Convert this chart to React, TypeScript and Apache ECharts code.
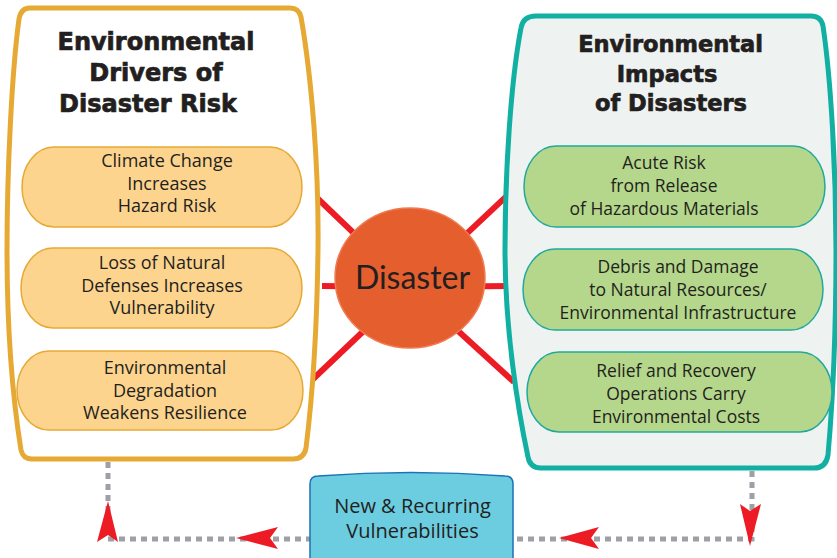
import React, { useEffect, useRef } from "react";
import * as echarts from "echarts";

// ---- Diagram content (text data) ----
const leftTitle = ["Environmental", "Drivers of", "Disaster Risk"];
const rightTitle = ["Environmental", "Impacts", "of Disasters"];
const driverItems = [
  ["Climate Change", "Increases", "Hazard Risk"],
  ["Loss of Natural", "Defenses Increases", "Vulnerability"],
  ["Environmental", "Degradation", "Weakens Resilience"],
];
const impactItems = [
  ["Acute Risk", "from Release", "of Hazardous Materials"],
  ["Debris and Damage", "to Natural Resources/", "Environmental Infrastructure"],
  ["Relief and Recovery", "Operations Carry", "Environmental Costs"],
];
const centerLabel = "Disaster";
const loopLabel = ["New & Recurring", "Vulnerabilities"];

// ---- Layout (positions / sizes) ----
const leftTitleX = [156, 156, 148];
const leftTitleY = [42, 73, 104];
const rightTitleX = [670.5, 667, 671];
const rightTitleY = [43.5, 73.5, 103];
const driverBoxes = [
  { x: 22, y: 147, w: 280, h: 80, tx: 167, ty: 160 },
  { x: 21, y: 248, w: 281, h: 80, tx: 162, ty: 262 },
  { x: 17, y: 351, w: 286, h: 79, tx: 165, ty: 367 },
];
const impactBoxes = [
  { x: 524, y: 146, w: 301, h: 81, tx: 664, ty: 162 },
  { x: 523, y: 249, w: 300, h: 81, tx: 678, ty: 266 },
  { x: 527, y: 352, w: 305, h: 80, tx: 676, ty: 370 },
];

const C = {
  orange: "#E6A934",
  orangeFill: "#FDD48E",
  teal: "#12B0A2",
  tealThin: "#22A99C",
  greenFill: "#B4D78B",
  rightBg: "#EEF3F2",
  red: "#ED1C24",
  disaster: "#E55E2E",
  grey: "#9EA0A6",
  blue: "#6CCDE0",
  blueStroke: "#1C72B8",
  text: "#231F20",
};

function pillPath(x: number, y: number, w: number, h: number, rx: number) {
  const ry = h / 2;
  const k = 0.5523;
  const x1 = x + rx;
  const x2 = x + w - rx;
  const ym = y + ry;
  const y2 = y + h;
  return (
    `M${x1},${y} L${x2},${y} ` +
    `C${x2 + rx * k},${y} ${x + w},${ym - ry * k} ${x + w},${ym} ` +
    `C${x + w},${ym + ry * k} ${x2 + rx * k},${y2} ${x2},${y2} ` +
    `L${x1},${y2} ` +
    `C${x1 - rx * k},${y2} ${x},${ym + ry * k} ${x},${ym} ` +
    `C${x},${ym - ry * k} ${x1 - rx * k},${y} ${x1},${y} Z`
  );
}

const leftContainerD =
  "M30,8 L290,8 Q299,8 301,17 C312,80 319,170 318,250 C317,330 312,400 306,448 Q304,459 293,459 L32,459 Q23,459 21,450 C13,400 7,330 7,250 C7,170 12,70 19,19 Q21,8 30,8 Z";
const rightContainerD =
  "M536,16 L811,16 Q821,16 823,26 C831,80 836,170 836,250 C836,340 832,410 828,455 Q826,468 814,468 L541,468 Q530,468 528,457 C518,410 505,330 505,250 C505,170 511,80 521,28 Q523,16 536,16 Z";
const blueBoxD =
  "M310,484 Q310,476 318,476 Q411,469 505,476 Q513,476 513,484 L513,566 L310,566 Z";

export default function App() {
  const ref = useRef<HTMLDivElement>(null);

  useEffect(() => {
    if (!ref.current) return;
    const reg = (name: string, d: string) =>
      echarts.graphic.registerShape(name, echarts.graphic.extendPath(d, {}) as any);
    reg("leftContainer", leftContainerD);
    reg("rightContainer", rightContainerD);
    reg("blueBox", blueBoxD);
    driverBoxes.forEach((b, i) => reg("pillL" + i, pillPath(b.x, b.y, b.w, b.h, 32)));
    impactBoxes.forEach((b, i) => reg("pillR" + i, pillPath(b.x, b.y, b.w, b.h, 32)));

    const chart = echarts.init(ref.current, null, { renderer: "svg" });
    const els: any[] = [];

    // spokes
    const cx = 410, cy = 287;
    const spokeEnds = [
      [314, 195], [510, 193], [322, 286], [510, 286], [312, 380], [514, 382],
    ];
    spokeEnds.forEach((p) =>
      els.push({
        type: "line",
        shape: { x1: cx, y1: cy, x2: p[0], y2: p[1] },
        style: { stroke: C.red, lineWidth: 6 },
      })
    );

    // containers
    els.push({
      type: "leftContainer",
      x: 0, y: 0,
      style: { fill: "#FFFFFF", stroke: C.orange, lineWidth: 5 },
    });
    els.push({
      type: "rightContainer",
      x: 0, y: 0,
      style: { fill: C.rightBg, stroke: C.teal, lineWidth: 5 },
    });

    // titles
    leftTitle.forEach((t, i) =>
      els.push({
        type: "text",
        style: {
          text: t, x: leftTitleX[i], y: leftTitleY[i], textAlign: "center", textVerticalAlign: "middle",
          font: "bold 24px 'DejaVu Sans'", fill: C.text, stroke: C.text, lineWidth: 0.7,
        },
      })
    );
    rightTitle.forEach((t, i) =>
      els.push({
        type: "text",
        style: {
          text: t, x: rightTitleX[i], y: rightTitleY[i], textAlign: "center", textVerticalAlign: "middle",
          font: "bold 22.5px 'DejaVu Sans'", fill: C.text, stroke: C.text, lineWidth: 0.7,
        },
      })
    );

    // pills
    driverBoxes.forEach((b, i) => {
      els.push({
        type: "pillL" + i, x: 0, y: 0,
        style: { fill: C.orangeFill, stroke: C.orange, lineWidth: 1.5 },
      });
      driverItems[i].forEach((t, j) =>
        els.push({
          type: "text",
          style: {
            text: t, x: b.tx, y: b.ty + j * 22.5, textAlign: "center", textVerticalAlign: "middle",
            font: "18px 'Open Sans'", fill: C.text,
          },
        })
      );
    });
    impactBoxes.forEach((b, i) => {
      els.push({
        type: "pillR" + i, x: 0, y: 0,
        style: { fill: C.greenFill, stroke: C.tealThin, lineWidth: 1.5 },
      });
      impactItems[i].forEach((t, j) =>
        els.push({
          type: "text",
          style: {
            text: t, x: b.tx, y: b.ty + j * 23, textAlign: "center", textVerticalAlign: "middle",
            font: "17.5px 'Open Sans'", fill: C.text,
          },
        })
      );
    });

    // disaster circle
    els.push({
      type: "ellipse",
      shape: { cx: 410, cy: 278, rx: 75, ry: 70 },
      style: { fill: C.disaster, stroke: "#F07A52", lineWidth: 1.5 },
    });
    els.push({
      type: "text",
      style: {
        text: centerLabel, x: 412.5, y: 276, textAlign: "center", textVerticalAlign: "middle",
        font: "32px Lato", fill: C.text,
      },
    });

    // dotted loop lines
    els.push({
      type: "polyline",
      shape: { points: [[108, 462], [108, 539], [312, 539]] },
      style: { stroke: C.grey, lineWidth: 5, lineDash: [6, 5], fill: null },
    });
    els.push({
      type: "polyline",
      shape: { points: [[752, 471], [752, 539], [511, 539]] },
      style: { stroke: C.grey, lineWidth: 5, lineDash: [6, 5], fill: null },
    });

    // blue box
    els.push({
      type: "blueBox", x: 0, y: 0,
      style: { fill: C.blue, stroke: C.blueStroke, lineWidth: 1.5 },
    });
    loopLabel.forEach((t, i) =>
      els.push({
        type: "text",
        style: {
          text: t, x: 412.5, y: 505.5 + i * 25, textAlign: "center", textVerticalAlign: "middle",
          font: "20px 'Open Sans'", fill: C.text,
        },
      })
    );

    // arrowheads
    const arrows = [
      [[108, 501], [97, 542], [108, 535], [118, 542]],
      [[236, 538], [278, 527], [270, 538], [278, 549]],
      [[559, 538], [599, 527], [591, 538], [599, 549]],
      [[750, 546], [740, 504], [750, 511], [761, 504]],
    ];
    arrows.forEach((pts) =>
      els.push({ type: "polygon", shape: { points: pts }, style: { fill: C.red } })
    );

    chart.setOption({ animation: false, graphic: { elements: els } });
    return () => chart.dispose();
  }, []);

  return (
    <div
      ref={ref}
      style={{ position: "fixed", left: 0, top: 0, width: 837, height: 558, background: "#fff" }}
    />
  );
}
